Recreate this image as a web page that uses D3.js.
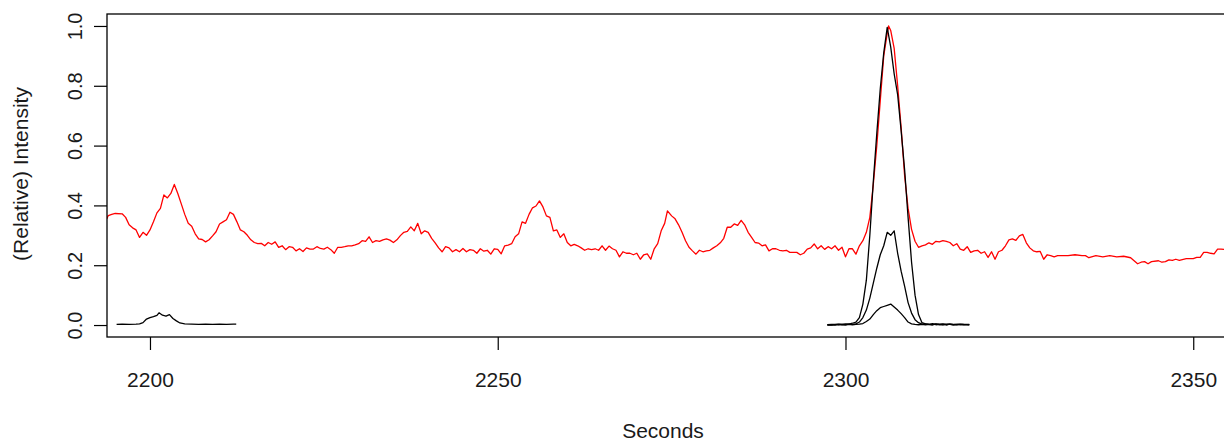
<!DOCTYPE html>
<html>
<head>
<meta charset="utf-8">
<script src="https://cdn.jsdelivr.net/npm/d3@7"></script>
<style>
  body { margin: 0; background: #fff; }
  text { font-family: "Liberation Sans", Arial, sans-serif; fill: #1a1a1a; }
</style>
</head>
<body>
<svg width="1224" height="441"></svg>
<script>
// red trace (total ion signal, relative)
var redTime = [2193.8,2194,2194.5,2195,2196,2196.5,2197,2197.5,2198,2198.5,2199,2199.5,2200,2200.5,2201,2201.5,2202,2202.5,2203,2203.5,2204,2204.5,2205,2205.5,2206,2206.5,2207,2207.5,2208,2208.5,2209,2209.5,2210,2210.5,2211,2211.5,2212,2212.5,2213,2213.5,2214,2214.5,2215,2215.5,2216,2216.5,2217,2217.5,2218,2218.5,2219,2219.5,2220,2220.5,2221,2221.5,2222,2222.5,2223,2223.5,2224,2224.5,2225,2225.5,2226,2226.5,2227,2227.5,2228,2228.5,2229,2229.5,2230,2230.5,2231,2231.5,2232,2232.5,2233,2233.5,2234,2234.5,2235,2235.5,2236,2236.5,2237,2237.5,2238,2238.5,2239,2239.5,2240,2240.5,2241,2241.5,2242,2242.5,2243,2243.5,2244,2244.5,2245,2245.5,2246,2246.5,2247,2247.5,2248,2248.5,2249,2249.5,2250,2250.5,2251,2251.5,2252,2252.5,2253,2253.5,2254,2254.5,2255,2255.5,2256,2256.5,2257,2257.5,2258,2258.5,2259,2259.5,2260,2260.5,2261,2261.5,2262,2262.5,2263,2263.5,2264,2264.5,2265,2265.5,2266,2266.5,2267,2267.5,2268,2268.5,2269,2269.5,2270,2270.5,2271,2271.5,2272,2272.5,2273,2273.5,2274,2274.4,2275,2275.5,2276,2276.5,2277,2277.5,2278,2278.5,2279,2279.5,2280,2280.5,2281,2281.5,2282,2282.5,2283,2283.5,2284,2284.5,2285,2285.5,2286,2286.5,2287,2287.5,2288,2288.5,2289,2289.5,2290,2290.5,2291,2291.5,2292,2292.5,2293,2293.5,2294,2294.5,2295,2295.5,2296,2296.5,2297,2297.5,2298,2298.5,2299,2299.5,2300,2300.5,2301,2301.5,2302,2302.5,2303,2303.5,2304,2304.5,2305,2305.5,2306,2306.2,2306.5,2307,2307.5,2308,2308.5,2309,2309.5,2310,2310.5,2311,2311.5,2312,2312.5,2313,2313.5,2314,2314.5,2315,2315.5,2316,2316.5,2317,2317.5,2318,2318.5,2319,2319.5,2320,2320.5,2321,2321.5,2322,2322.5,2323,2323.5,2324,2324.5,2325,2325.5,2326,2326.5,2327,2327.5,2328,2328.5,2329,2329.5,2330,2330.5,2331,2332,2333,2334,2334.5,2335,2336,2337,2338,2339,2340,2341,2341.5,2342,2342.5,2343,2343.5,2344,2345,2345.5,2346,2346.5,2347,2347.5,2348,2349,2350,2350.5,2351,2351.5,2352,2352.5,2353,2353.5,2354,2354.7];
var redValue = [0.355,0.366,0.37,0.373,0.372,0.36,0.335,0.325,0.318,0.293,0.31,0.30,0.318,0.345,0.375,0.39,0.435,0.425,0.44,0.47,0.44,0.405,0.37,0.34,0.33,0.305,0.288,0.286,0.278,0.285,0.298,0.312,0.338,0.345,0.352,0.377,0.37,0.345,0.318,0.312,0.30,0.285,0.276,0.272,0.273,0.265,0.276,0.27,0.278,0.26,0.265,0.252,0.262,0.26,0.248,0.255,0.246,0.258,0.254,0.254,0.262,0.256,0.254,0.26,0.252,0.24,0.26,0.26,0.262,0.265,0.265,0.268,0.272,0.282,0.28,0.295,0.276,0.282,0.28,0.285,0.288,0.284,0.276,0.285,0.299,0.31,0.313,0.328,0.315,0.34,0.305,0.315,0.31,0.29,0.275,0.258,0.245,0.262,0.258,0.245,0.252,0.245,0.256,0.245,0.252,0.25,0.24,0.255,0.247,0.25,0.237,0.255,0.253,0.238,0.265,0.267,0.272,0.295,0.305,0.345,0.34,0.37,0.392,0.398,0.415,0.395,0.365,0.36,0.315,0.318,0.293,0.305,0.276,0.265,0.27,0.265,0.258,0.25,0.255,0.252,0.255,0.25,0.265,0.25,0.264,0.255,0.25,0.228,0.245,0.24,0.24,0.235,0.24,0.22,0.235,0.238,0.22,0.255,0.272,0.315,0.34,0.382,0.365,0.355,0.335,0.31,0.282,0.26,0.248,0.237,0.25,0.245,0.248,0.25,0.258,0.265,0.275,0.29,0.327,0.327,0.338,0.333,0.35,0.335,0.31,0.293,0.276,0.274,0.265,0.268,0.248,0.255,0.255,0.25,0.248,0.25,0.243,0.243,0.243,0.235,0.24,0.254,0.258,0.271,0.255,0.265,0.253,0.262,0.255,0.265,0.25,0.26,0.228,0.255,0.255,0.237,0.265,0.282,0.31,0.36,0.47,0.60,0.75,0.90,0.975,1.0,0.985,0.925,0.80,0.66,0.50,0.39,0.32,0.28,0.26,0.265,0.268,0.275,0.27,0.28,0.278,0.282,0.28,0.276,0.265,0.272,0.254,0.25,0.262,0.243,0.248,0.25,0.24,0.245,0.226,0.245,0.22,0.245,0.25,0.265,0.285,0.288,0.283,0.298,0.303,0.275,0.258,0.248,0.245,0.246,0.22,0.235,0.232,0.228,0.232,0.232,0.232,0.235,0.232,0.232,0.225,0.232,0.228,0.232,0.228,0.23,0.225,0.215,0.205,0.21,0.212,0.205,0.212,0.215,0.21,0.212,0.218,0.216,0.22,0.216,0.222,0.222,0.226,0.226,0.243,0.243,0.24,0.238,0.254,0.254,0.252];

// small black trace near 2200 s
var leftTime = [2195.2,2196,2197,2198,2198.5,2199,2199.5,2200,2200.5,2201,2201.3,2201.8,2202.3,2202.8,2203.3,2203.8,2204.3,2205,2206,2207,2208,2209,2210,2211,2212,2212.4];
var leftValue = [0.002,0.003,0.002,0.003,0.004,0.008,0.02,0.025,0.028,0.032,0.041,0.033,0.03,0.035,0.022,0.014,0.007,0.004,0.003,0.002,0.003,0.002,0.003,0.002,0.003,0.003];

// three black traces around the big peak
var peakTime = [2297.4,2298,2298.5,2299,2299.5,2300,2300.5,2301,2301.5,2302,2302.5,2303,2303.5,2304,2304.5,2305,2305.5,2306,2306.5,2307,2307.5,2308,2308.5,2309,2309.5,2310,2310.5,2311,2311.5,2312,2312.5,2313,2313.5,2314,2314.5,2315,2315.5,2316,2316.5,2317,2317.8];
var blackBig = [0.001,0.002,0.001,0.003,0.002,0.004,0.003,0.006,0.010,0.025,0.07,0.15,0.30,0.48,0.64,0.79,0.91,0.995,0.93,0.84,0.77,0.65,0.52,0.36,0.21,0.10,0.035,0.008,0.004,0.002,0.005,0.001,0.003,0.004,0.001,0.003,0.002,0.001,0.003,0.002,0.001];
var blackMid = [0.000,0.001,0.002,0.001,0.002,0.001,0.003,0.002,0.004,0.010,0.025,0.05,0.09,0.14,0.19,0.235,0.265,0.31,0.30,0.315,0.24,0.18,0.13,0.075,0.04,0.018,0.008,0.003,0.004,0.002,0.001,0.004,0.002,0.001,0.003,0.002,0.001,0.002,0.001,0.002,0.001];
var blackSmall = [0.001,0.000,0.001,0.002,0.001,0.001,0.002,0.001,0.002,0.003,0.005,0.012,0.020,0.035,0.048,0.058,0.062,0.066,0.070,0.060,0.050,0.038,0.025,0.010,0.004,0.002,0.001,0.002,0.001,0.002,0.001,0.003,0.001,0.002,0.001,0.003,0.001,0.002,0.002,0.001,0.002];

var xTicks = [2200, 2250, 2300, 2350];
var yTicks = [0, 0.2, 0.4, 0.6, 0.8, 1.0];

var svg = d3.select("svg"),
    box = {left: 107, top: 14, right: 1226, bottom: 337};

var x = d3.scaleLinear()
    .domain([2193.82, 2354.71])
    .range([box.left, box.right]);

var y = d3.scaleLinear()
    .domain([-0.04, 1.04])
    .range([box.bottom, box.top]);

svg.append("clipPath").attr("id", "plotclip")
  .append("rect")
    .attr("x", box.left).attr("y", box.top)
    .attr("width", box.right - box.left).attr("height", box.bottom - box.top);

function toPoints(ts, vs) {
  return ts.map(function(t, i) { return [t, vs[i]]; });
}

var line = d3.line()
    .x(function(d) { return x(d[0]); })
    .y(function(d) { return y(d[1]); });

var plot = svg.append("g").attr("clip-path", "url(#plotclip)");

var traces = [
  {pts: toPoints(redTime, redValue), color: "#ff0000"},
  {pts: toPoints(leftTime, leftValue), color: "#000"},
  {pts: toPoints(peakTime, blackSmall), color: "#000"},
  {pts: toPoints(peakTime, blackMid), color: "#000"},
  {pts: toPoints(peakTime, blackBig), color: "#000"}
];

plot.selectAll("path.trace")
  .data(traces)
  .enter().append("path")
    .attr("class", "trace")
    .attr("fill", "none")
    .attr("stroke", function(d) { return d.color; })
    .attr("stroke-width", 1.3)
    .attr("stroke-linejoin", "round")
    .attr("d", function(d) { return line(d.pts); });

// plot frame
svg.append("rect")
  .attr("x", box.left).attr("y", box.top)
  .attr("width", box.right - box.left).attr("height", box.bottom - box.top)
  .attr("fill", "none").attr("stroke", "#000").attr("stroke-width", 1.3);

// axes, R style (ticks outside, labels far)
var xAxis = svg.append("g")
  .attr("transform", "translate(0," + box.bottom + ")")
  .call(d3.axisBottom(x).tickValues(xTicks).tickSize(13).tickPadding(22).tickFormat(d3.format("d")));
xAxis.select(".domain").remove();
xAxis.selectAll("text").attr("font-size", 21).attr("font-family", null);

var yAxis = svg.append("g")
  .attr("transform", "translate(" + box.left + ",0)")
  .call(d3.axisLeft(y).tickValues(yTicks).tickSize(13).tickFormat(d3.format(".1f")));
yAxis.select(".domain").remove();
yAxis.selectAll("text")
  .attr("font-size", 20).attr("font-family", null)
  .attr("x", null).attr("dy", null)
  .attr("text-anchor", "middle")
  .attr("transform", "translate(-25,0) rotate(-90)");

svg.selectAll(".tick line").attr("stroke", "#000").attr("stroke-width", 1.2);

svg.append("text")
  .attr("x", 663)
  .attr("y", 438)
  .attr("text-anchor", "middle")
  .attr("font-size", 21)
  .text("Seconds");

svg.append("text")
  .attr("transform", "translate(28," + 174 + ") rotate(-90)")
  .attr("text-anchor", "middle")
  .attr("font-size", 21)
  .text("(Relative) Intensity");
</script>
</body>
</html>
